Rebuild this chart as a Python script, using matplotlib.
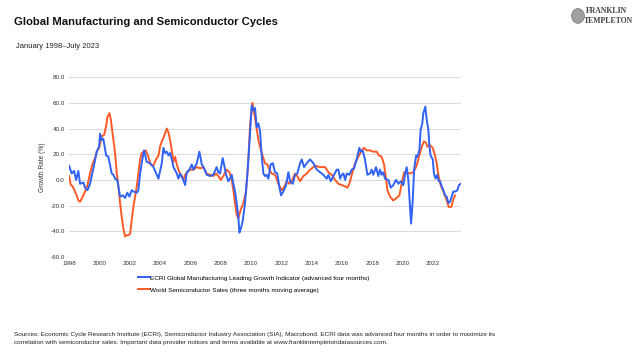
import matplotlib
matplotlib.use("Agg")
import matplotlib.pyplot as plt
from matplotlib.patches import Ellipse

plt.rcParams['font.family'] = ['Liberation Sans', 'DejaVu Sans']

# ECRI Global Manufacturing Leading Growth Indicator (advanced four months)
ecri_year = [1998.00, 1998.17, 1998.33, 1998.46, 1998.61, 1998.72, 1998.94, 1999.05, 1999.21, 1999.38,
             1999.60, 1999.82, 1999.98, 2000.04, 2000.15, 2000.26, 2000.44, 2000.59, 2000.81, 2000.92,
             2001.03, 2001.18, 2001.36, 2001.54, 2001.69, 2001.84, 2001.98, 2002.13, 2002.24, 2002.46,
             2002.57, 2002.68, 2002.83, 2002.94, 2003.12, 2003.34, 2003.56, 2003.78, 2003.89, 2004.11,
             2004.22, 2004.33, 2004.44, 2004.55, 2004.66, 2004.77, 2004.88, 2005.10, 2005.21, 2005.32,
             2005.49, 2005.65, 2005.76, 2005.93, 2006.09, 2006.20, 2006.42, 2006.59, 2006.75, 2006.90,
             2007.07, 2007.29, 2007.51, 2007.73, 2007.84, 2007.95, 2008.13, 2008.22, 2008.35, 2008.50,
             2008.61, 2008.72, 2008.83, 2008.94, 2009.05, 2009.16, 2009.23, 2009.32, 2009.45, 2009.60,
             2009.76, 2009.93, 2010.04, 2010.15, 2010.26, 2010.37, 2010.48, 2010.59, 2010.70, 2010.81,
             2010.92, 2011.03, 2011.14, 2011.29, 2011.43, 2011.58, 2011.73, 2011.87, 2011.98, 2012.13,
             2012.31, 2012.46, 2012.57, 2012.75, 2012.90, 2013.05, 2013.23, 2013.34, 2013.49, 2013.67,
             2013.89, 2014.11, 2014.33, 2014.55, 2014.77, 2014.99, 2015.10, 2015.25, 2015.43, 2015.65,
             2015.76, 2015.87, 2015.98, 2016.09, 2016.20, 2016.31, 2016.48, 2016.64, 2016.79, 2016.96,
             2017.14, 2017.23, 2017.36, 2017.51, 2017.67, 2017.84, 2017.95, 2018.06, 2018.24, 2018.39,
             2018.50, 2018.61, 2018.72, 2018.83, 2019.05, 2019.21, 2019.38, 2019.56, 2019.71, 2019.87,
             2020.04, 2020.15, 2020.26, 2020.37, 2020.48, 2020.55, 2020.66, 2020.75, 2020.88, 2020.96,
             2021.10, 2021.18, 2021.29, 2021.36, 2021.49, 2021.58, 2021.69, 2021.76, 2021.84, 2021.98,
             2022.06, 2022.17, 2022.28, 2022.37, 2022.46, 2022.57, 2022.68, 2022.79, 2022.90, 2023.01,
             2023.12, 2023.23, 2023.34, 2023.49, 2023.60, 2023.71, 2023.83]
ecri_val = [11, 5, 7, 0, 7, -3, -2, -6, -8, -3,
            9, 22, 26, 36, 31, 32, 19, 18, 5, 4,
            1, 0, -13, -12, -14, -10, -13, -8, -9, -10,
            -8, 5, 16, 23, 14, 13, 10, 4, 1, 13,
            25, 21, 22, 19, 21, 16, 10, 5, 1, 5,
            1, -4, 6, 8, 12, 8, 13, 22, 12, 9,
            4, 3, 4, 10, 6, 5, 17, 12, 4, -1,
            1, 4, -3, -9, -18, -29, -41, -38, -32, -18,
            5, 36, 58, 54, 56, 41, 44, 38, 19, 5,
            3, 4, 1, 12, 13, 6, 5, -6, -12, -9,
            -4, 6, -1, -3, 4, 5, 13, 16, 10, 13,
            16, 13, 8, 6, 4, 1, 4, -1, 3, 8,
            8, 1, 4, 5, 0, 5, 4, 8, 9, 16,
            25, 22, 23, 16, 4, 5, 8, 4, 10, 3,
            8, 4, 6, 1, 0, -6, -4, 0, -3, -1,
            -4, 4, 10, 0, -21, -34, -16, 8, 19, 18,
            23, 39, 44, 52, 57, 47, 39, 26, 19, 16,
            5, 1, 4, -1, -1, -5, -8, -12, -13, -18,
            -17, -13, -9, -9, -8, -4, -3]

# World Semiconductor Sales (three months moving average)
semi_year = [1998.00, 1998.11, 1998.24, 1998.39, 1998.50, 1998.61, 1998.72, 1998.90, 1999.05, 1999.21,
             1999.38, 1999.56, 1999.71, 1999.82, 1999.98, 2000.15, 2000.31, 2000.44, 2000.53, 2000.66,
             2000.75, 2000.88, 2001.03, 2001.14, 2001.25, 2001.36, 2001.47, 2001.58, 2001.69, 2001.80,
             2001.91, 2002.02, 2002.13, 2002.24, 2002.35, 2002.46, 2002.57, 2002.68, 2002.79, 2002.94,
             2003.05, 2003.23, 2003.38, 2003.56, 2003.73, 2003.89, 2004.00, 2004.11, 2004.26, 2004.44,
             2004.55, 2004.66, 2004.77, 2004.88, 2004.99, 2005.10, 2005.27, 2005.43, 2005.54, 2005.65,
             2005.80, 2005.98, 2006.20, 2006.42, 2006.64, 2006.85, 2007.07, 2007.29, 2007.51, 2007.69,
             2007.84, 2008.00, 2008.22, 2008.39, 2008.57, 2008.72, 2008.83, 2008.94, 2009.05, 2009.16,
             2009.32, 2009.49, 2009.67, 2009.82, 2009.93, 2010.09, 2010.20, 2010.33, 2010.48, 2010.70,
             2010.92, 2011.07, 2011.21, 2011.36, 2011.58, 2011.80, 2012.02, 2012.17, 2012.35, 2012.53,
             2012.68, 2012.90, 2013.05, 2013.23, 2013.45, 2013.67, 2013.89, 2014.22, 2014.55, 2014.88,
             2015.10, 2015.32, 2015.54, 2015.76, 2015.98, 2016.20, 2016.35, 2016.48, 2016.64, 2016.85,
             2017.07, 2017.29, 2017.45, 2017.62, 2017.84, 2018.06, 2018.28, 2018.44, 2018.61, 2018.77,
             2018.90, 2018.99, 2019.16, 2019.38, 2019.60, 2019.78, 2019.93, 2020.09, 2020.26, 2020.48,
             2020.70, 2020.88, 2021.03, 2021.14, 2021.29, 2021.40, 2021.54, 2021.62, 2021.80, 2021.98,
             2022.13, 2022.24, 2022.35, 2022.50, 2022.68, 2022.90, 2023.03, 2023.21, 2023.34, 2023.45]
semi_val = [3, -4, -5, -9, -12, -16, -17, -13, -9, -4,
            5, 13, 17, 22, 25, 34, 35, 42, 49, 52,
            47, 35, 21, 5, -5, -18, -29, -38, -44, -43,
            -43, -42, -31, -21, -13, -5, 5, 16, 21, 22,
            23, 18, 12, 11, 16, 19, 26, 30, 34, 40,
            37, 31, 23, 14, 18, 12, 6, 3, 0, 4,
            6, 8, 8, 10, 9, 10, 5, 4, 3, 5,
            3, 0, 4, 8, 6, 0, -8, -18, -27, -30,
            -23, -18, -9, 16, 42, 60, 52, 43, 31, 21,
            13, 12, 8, 5, 4, -3, -8, -6, -1, -3,
            -1, 5, 3, -1, 3, 5, 8, 11, 10, 10,
            6, 4, 0, -3, -4, -5, -6, -3, 4, 13,
            18, 23, 25, 23, 23, 22, 22, 19, 18, 12,
            1, -8, -13, -16, -14, -12, -3, 6, 6, 5,
            6, 10, 16, 21, 27, 30, 29, 26, 27, 25,
            19, 13, 4, -4, -9, -16, -21, -21, -15, -12]

year_ticks = list(range(1998, 2023, 2))
value_ticks = [-60, -40, -20, 0, 20, 40, 60, 80]

fig = plt.figure(figsize=(6.4, 3.54), dpi=100)
ax = fig.add_axes([0.108, 0.274, 0.612, 0.508])

ax.plot(ecri_year, ecri_val, color='#2f62f5', lw=1.4, zorder=3,
        label='ECRI Global Manufacturing Leading Growth Indicator (advanced four months)')
ax.plot(semi_year, semi_val, color='#ff5a26', lw=1.4, zorder=2,
        label='World Semiconductor Sales (three months moving average)')

ax.set_xlim(1998, 2023.83)
ax.set_ylim(-60, 80)
ax.set_xticks(year_ticks)
ax.set_xticklabels([str(y) for y in year_ticks])
ax.set_yticks(value_ticks)
ax.set_yticklabels([f'{v:.1f}' for v in value_ticks])
ax.tick_params(length=0, labelsize=4.5, colors='#333333', pad=3)
ax.grid(axis='y', color='#dcdcdc', lw=0.8)
ax.set_axisbelow(True)
for s in ax.spines.values():
    s.set_visible(False)
ax.set_ylabel('Growth Rate (%)', fontsize=4.8, color='#333333', labelpad=3)

fig.legend(loc='upper left', bbox_to_anchor=(0.21, 0.232), frameon=False, fontsize=4.6,
           handlelength=1.9, handletextpad=0.1, labelspacing=1.05, borderpad=0)

fig.text(0.022, 0.937, 'Global Manufacturing and Semiconductor Cycles', fontsize=8.1,
         fontweight='bold', va='center', color='#111111')
fig.text(0.025, 0.868, 'January 1998\u2013July 2023', fontsize=5.5, va='center', color='#222222')

# logo
fig.patches.append(Ellipse((0.903, 0.955), 0.020, 0.042, transform=fig.transFigure,
                           facecolor='#a0a0a0', edgecolor='#666666', lw=0.4))
fig.text(0.916, 0.970, 'FRANKLIN', fontsize=5.6, family='Liberation Serif', fontweight='bold',
         va='center', color='#444444')
fig.text(0.913, 0.942, 'TEMPLETON', fontsize=5.6, family='Liberation Serif', fontweight='bold',
         va='center', color='#444444')

fig.text(0.022, 0.044,
         'Sources: Economic Cycle Research Institute (ECRI), Semiconductor Industry Association (SIA), '
         'Macrobond. ECRI data was advanced four months in order to maximize its\n'
         'correlation with semiconductor sales. Important data provider notices and terms available at '
         'www.franklintempletondatasources.com.',
         fontsize=4.55, va='center', color='#222222', linespacing=1.6)

fig.savefig('out.png', dpi=100)
